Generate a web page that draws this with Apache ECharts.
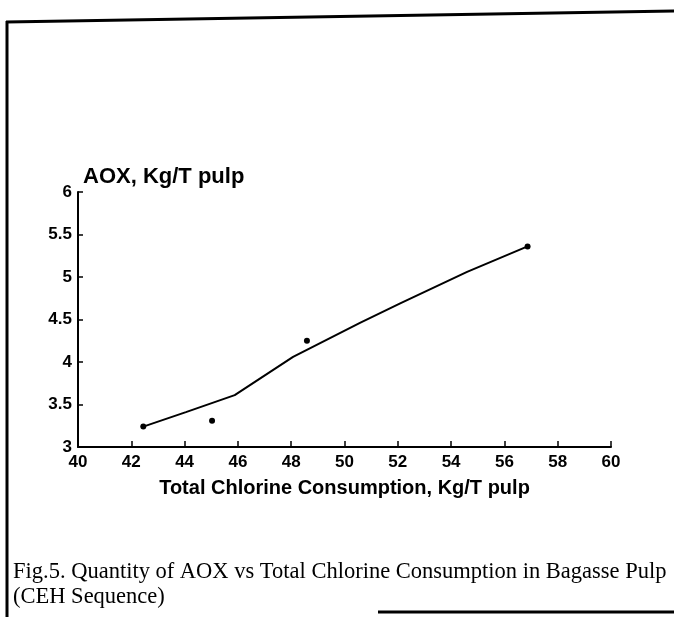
<!DOCTYPE html>
<html>
<head>
<meta charset="utf-8">
<title>AOX vs Total Chlorine Consumption</title>
<script src="https://cdn.jsdelivr.net/npm/echarts@6/dist/echarts.min.js"></script>
<style>
html, body { margin: 0; padding: 0; background: #fff; }
#chart { width: 674px; height: 617px; }
</style>
</head>
<body>
<div id="chart"></div>
<script type="text/javascript">
// measured points (x = chlorine consumption, y = AOX)
var pointX = [42.45, 45.03, 48.59, 56.87];
var pointY = [3.24, 3.31, 4.25, 5.36];
// fitted curve as drawn
var fitX = [42.45, 44.05, 45.88, 48.07, 50.58, 52.09, 54.6, 56.87];
var fitY = [3.24, 3.41, 3.61, 4.06, 4.46, 4.69, 5.06, 5.36];

var xName = 'Total Chlorine Consumption, Kg/T pulp';
var yName = 'AOX, Kg/T pulp';
var caption = 'Fig.5. Quantity of AOX vs Total Chlorine Consumption in Bagasse Pulp\n(CEH Sequence)';

var chart = echarts.init(document.getElementById('chart'));

var axisFont = {color: '#000', fontFamily: 'Liberation Sans', fontWeight: 'bold', fontSize: 17};

option = {
	animation: false,
	backgroundColor: '#fff',
	title: {
		text: caption,
		left: 8,
		top: 555,
		textStyle: {
			fontFamily: 'Liberation Serif',
			fontWeight: 'normal',
			fontSize: 22.5,
			lineHeight: 25,
			color: '#000'
		}
	},
	grid: {left: 78, right: 63, top: 192, bottom: 170},
	xAxis: {
		type: 'value',
		min: 40, max: 60, interval: 2,
		name: xName,
		nameLocation: 'middle',
		nameGap: 31,
		nameTextStyle: {color: '#000', fontFamily: 'Liberation Sans', fontWeight: 'bold', fontSize: 20},
		axisLine: {lineStyle: {color: '#000', width: 2}},
		axisTick: {inside: true, length: 6, lineStyle: {color: '#000', width: 1.5}},
		axisLabel: Object.assign({margin: 7}, axisFont),
		splitLine: {show: false}
	},
	yAxis: {
		type: 'value',
		min: 3, max: 6, interval: 0.5,
		name: yName,
		nameLocation: 'end',
		nameGap: 4,
		nameTextStyle: {align: 'left', padding: [0, 0, 0, 5], color: '#000', fontFamily: 'Liberation Sans', fontWeight: 'bold', fontSize: 22},
		axisLine: {lineStyle: {color: '#000', width: 2}},
		axisTick: {inside: true, length: 5, lineStyle: {color: '#000', width: 1.5}},
		axisLabel: Object.assign({margin: 6}, axisFont),
		splitLine: {show: false}
	},
	series: [
		{
			name: 'fit',
			type: 'line',
			data: fitX.map(function (x, i) { return [x, fitY[i]]; }),
			showSymbol: false,
			lineStyle: {color: '#000', width: 2}
		},
		{
			name: 'data',
			type: 'scatter',
			data: pointX.map(function (x, i) { return [x, pointY[i]]; }),
			symbolSize: 6,
			itemStyle: {color: '#000', opacity: 1}
		}
	],
	graphic: [
		{type: 'line', shape: {x1: 6, y1: 22, x2: 674, y2: 11}, style: {stroke: '#000', lineWidth: 3}},
		{type: 'line', shape: {x1: 7, y1: 21, x2: 7, y2: 617}, style: {stroke: '#000', lineWidth: 3}},
		{type: 'line', shape: {x1: 378, y1: 612, x2: 674, y2: 612}, style: {stroke: '#000', lineWidth: 3}}
	]
};

chart.setOption(option);
</script>
</body>
</html>
